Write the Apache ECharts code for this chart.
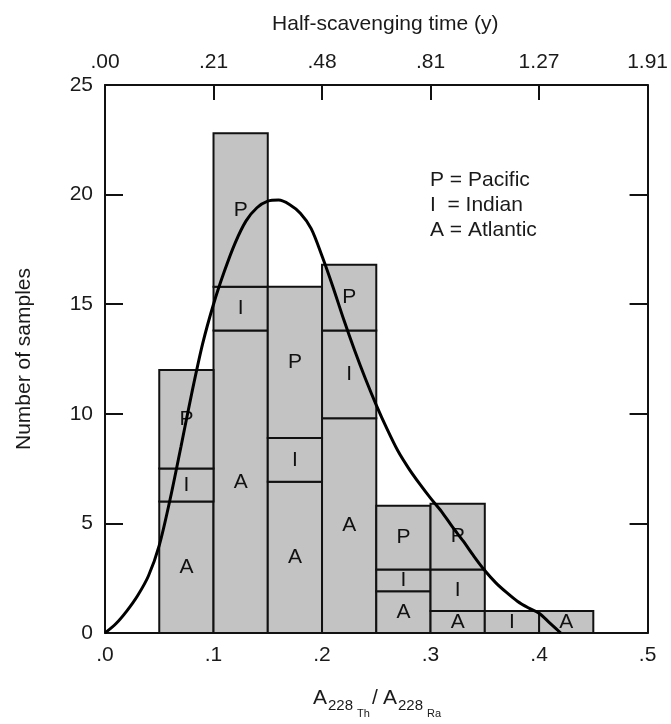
<!DOCTYPE html>
<html>
<head>
<meta charset="utf-8">
<script src="https://cdn.jsdelivr.net/npm/echarts@6/dist/echarts.min.js"></script>
<style>
html,body{margin:0;padding:0;background:#fff;}
#chart{width:671px;height:724px;}
</style>
</head>
<body>
<div id="chart"></div>
<script>
// Histogram bins (A228Th/A228Ra), width 0.05
const binStart = [0.05, 0.10, 0.15, 0.20, 0.25, 0.30, 0.35, 0.40];
const binWidth = 0.05;
const atlantic = [6.0, 13.8, 6.9, 9.8, 1.9, 1.0, 0, 1.0];
const indian   = [1.5, 2.0, 2.0, 4.0, 1.0, 1.9, 1.0, 0];
const pacific  = [4.5, 7.0, 6.9, 3.0, 2.9, 3.0, 0, 0];

// Fitted curve
const curveX = [0, 0.01, 0.02, 0.03, 0.04, 0.05, 0.06, 0.07, 0.08, 0.09, 0.10, 0.11, 0.12, 0.13, 0.14, 0.15, 0.16, 0.17, 0.18, 0.19, 0.20, 0.21, 0.22, 0.23, 0.24, 0.25, 0.26, 0.27, 0.28, 0.29, 0.30, 0.31, 0.32, 0.33, 0.34, 0.35, 0.36, 0.37, 0.38, 0.39, 0.40, 0.41, 0.42];
const curveY = [0, 0.42, 1.0, 1.7, 2.6, 4.0, 6.1, 8.5, 10.95, 13.2, 15.0, 16.5, 17.8, 18.8, 19.4, 19.7, 19.75, 19.55, 19.15, 18.45, 17.2, 15.8, 14.3, 12.9, 11.6, 10.4, 9.3, 8.3, 7.5, 6.8, 6.15, 5.55, 4.85, 4.2, 3.5, 2.85, 2.3, 1.85, 1.45, 1.15, 0.9, 0.45, 0];

const bottomLabels = ['.0', '.1', '.2', '.3', '.4', '.5'];
const topLabels = ['.00', '.21', '.48', '.81', '1.27', '1.91'];
const leftLabels = ['0', '5', '10', '15', '20', '25'];
const legendLines = ['P = Pacific', 'I  = Indian', 'A = Atlantic'];

const FONT = '"Liberation Sans", Arial, sans-serif';
const FILL = '#c3c3c3';

function buildSegments(values, below) {
  const out = [];
  values.forEach((v, i) => {
    if (v > 0) {
      const base = below.reduce((s, arr) => s + arr[i], 0);
      out.push([binStart[i], binStart[i] + binWidth, base, base + v]);
    }
  });
  return out;
}

function segSeries(name, letter, data) {
  return {
    type: 'custom',
    name: name,
    xAxisIndex: 0,
    yAxisIndex: 0,
    z: 2,
    data: data,
    renderItem: function (params, api) {
      const p0 = api.coord([api.value(0), api.value(3)]);
      const p1 = api.coord([api.value(1), api.value(2)]);
      return {
        type: 'group',
        children: [
          {
            type: 'rect',
            shape: { x: p0[0], y: p0[1], width: p1[0] - p0[0], height: p1[1] - p0[1] },
            style: { fill: FILL, stroke: '#111', lineWidth: 2 }
          },
          {
            type: 'text',
            style: {
              text: letter,
              x: (p0[0] + p1[0]) / 2,
              y: (p0[1] + p1[1]) / 2,
              align: 'center',
              verticalAlign: 'middle',
              fontFamily: FONT,
              fontSize: 21,
              fill: '#111'
            }
          }
        ]
      };
    }
  };
}

const chart = echarts.init(document.getElementById('chart'), null, { renderer: 'canvas' });

const axisLine = { show: true, onZero: false, lineStyle: { color: '#111', width: 2 } };
const tickStyle = { color: '#111', width: 2 };
const labelStyle = { color: '#1a1a1a', fontSize: 21, fontFamily: FONT };

const option = {
  backgroundColor: '#fff',
  animation: false,
  grid: { left: 105, right: 14, top: 85, bottom: 91, containLabel: false },
  xAxis: [
    {
      type: 'value', position: 'bottom', min: 0, max: 0.5, interval: 0.1,
      axisLine: axisLine,
      axisTick: { show: true, inside: true, length: 14, lineStyle: tickStyle },
      axisLabel: Object.assign({ margin: 12, formatter: (v, i) => bottomLabels[i] }, labelStyle),
      splitLine: { show: false }
    },
    {
      type: 'value', position: 'top', min: 0, max: 0.5, interval: 0.1,
      name: 'Half-scavenging time (y)', nameLocation: 'middle', nameGap: 50,
      nameTextStyle: { color: '#1a1a1a', fontSize: 21, fontFamily: FONT, padding: [0, 0, 0, 18] },
      axisLine: axisLine,
      axisTick: { show: true, inside: true, length: 15, lineStyle: tickStyle },
      axisLabel: Object.assign({ margin: 12, formatter: (v, i) => topLabels[i] }, labelStyle),
      splitLine: { show: false }
    }
  ],
  yAxis: [
    {
      type: 'value', position: 'left', min: 0, max: 25, interval: 5,
      name: 'Number of samples', nameLocation: 'middle', nameGap: 70, nameRotate: 90,
      nameTextStyle: { color: '#1a1a1a', fontSize: 21, fontFamily: FONT },
      axisLine: axisLine,
      axisTick: { show: true, inside: true, length: 18, lineStyle: tickStyle },
      axisLabel: Object.assign({ margin: 12, formatter: (v, i) => leftLabels[i] }, labelStyle),
      splitLine: { show: false }
    },
    {
      type: 'value', position: 'right', min: 0, max: 25, interval: 5,
      axisLine: axisLine,
      axisTick: { show: true, inside: true, length: 18, lineStyle: tickStyle },
      axisLabel: { show: false },
      splitLine: { show: false }
    }
  ],
  graphic: [
    {
      type: 'group', left: 313, top: 688,
      children: [
        { type: 'text', x: 0, y: 0, style: { text: 'A', fontSize: 21, fontFamily: FONT, fill: '#1a1a1a' } },
        { type: 'text', x: 15, y: 10, style: { text: '228', fontSize: 15, fontFamily: FONT, fill: '#1a1a1a' } },
        { type: 'text', x: 44, y: 20, style: { text: 'Th', fontSize: 11, fontFamily: FONT, fill: '#1a1a1a' } },
        { type: 'text', x: 59, y: 0, style: { text: '/', fontSize: 21, fontFamily: FONT, fill: '#1a1a1a' } },
        { type: 'text', x: 70, y: 0, style: { text: 'A', fontSize: 21, fontFamily: FONT, fill: '#1a1a1a' } },
        { type: 'text', x: 85, y: 10, style: { text: '228', fontSize: 15, fontFamily: FONT, fill: '#1a1a1a' } },
        { type: 'text', x: 114, y: 20, style: { text: 'Ra', fontSize: 11, fontFamily: FONT, fill: '#1a1a1a' } }
      ]
    },
    {
      type: 'group', left: 430, top: 170,
      children: legendLines.map((t, i) => ({
        type: 'text', x: 0, y: i * 25,
        style: { text: t, fontSize: 21, fontFamily: FONT, fill: '#1a1a1a' }
      }))
    }
  ],
  series: [
    segSeries('Atlantic', 'A', buildSegments(atlantic, [])),
    segSeries('Indian', 'I', buildSegments(indian, [atlantic])),
    segSeries('Pacific', 'P', buildSegments(pacific, [atlantic, indian])),
    {
      type: 'line',
      xAxisIndex: 0, yAxisIndex: 0,
      z: 5,
      smooth: 0.3,
      symbol: 'none',
      lineStyle: { color: '#000', width: 3 },
      data: curveX.map((x, i) => [x, curveY[i]])
    }
  ]
};

chart.setOption(option);
</script>
</body>
</html>
